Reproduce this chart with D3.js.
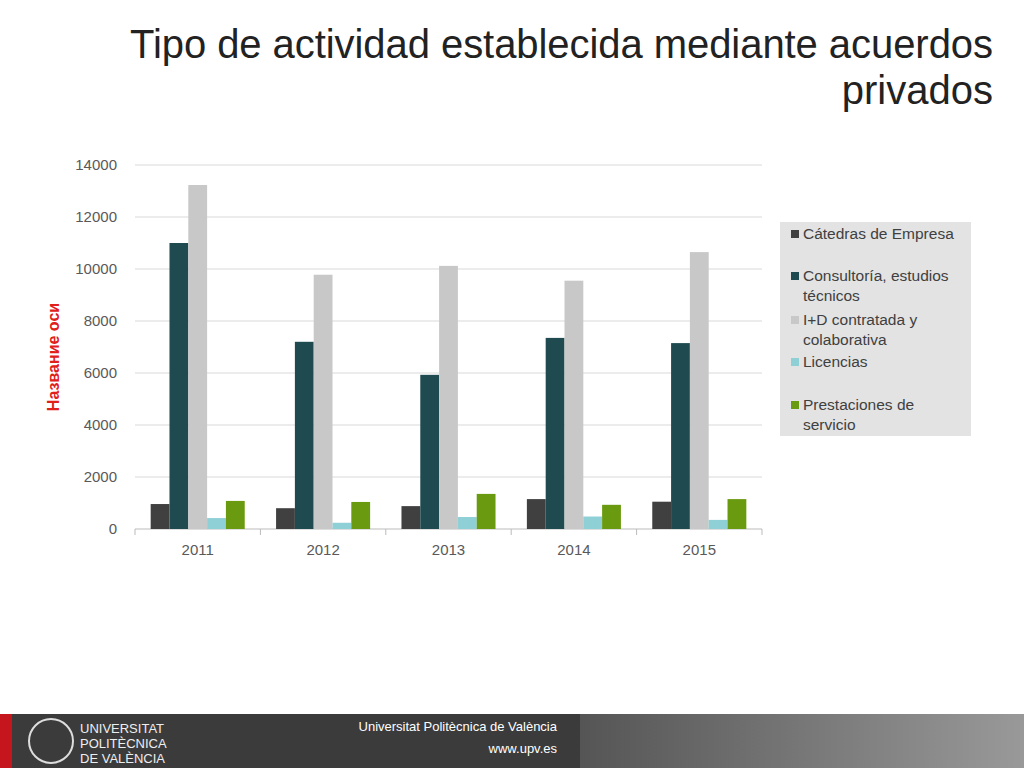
<!DOCTYPE html>
<html><head><meta charset="utf-8">
<script src="https://cdn.jsdelivr.net/npm/d3@7"></script>
<style>body{margin:0;background:#fff;font-family:"Liberation Sans",Arial,sans-serif}</style>
</head><body><svg id="c" width="1024" height="768"></svg>
<script>
const years=["2011","2012","2013","2014","2015"];
const seriesNames=["Cátedras de Empresa","Consultoría, estudios técnicos","I+D contratada y colaborativa","Licencias","Prestaciones de servicio"];
const catedras=[960,800,880,1150,1050];
const consultoria=[11000,7200,5930,7350,7150];
const imasd=[13230,9780,10120,9550,10650];
const licencias=[420,240,460,480,350];
const prestaciones=[1080,1040,1350,930,1150];
const yTicks=[0,2000,4000,6000,8000,10000,12000,14000];
const colors=["#404040","#1f4a4f","#c8c8c8","#8fcfd6","#6a9a10"];
const values=[catedras,consultoria,imasd,licencias,prestaciones];

const svg=d3.select("#c");
svg.append("text").attr("x",993).attr("y",58).attr("text-anchor","end").attr("font-size",40).attr("textLength",863).attr("fill","#222").text("Tipo de actividad establecida mediante acuerdos");
svg.append("text").attr("x",993).attr("y",104).attr("text-anchor","end").attr("font-size",40).attr("fill","#222").text("privados");

const x0=d3.scaleBand().domain(years).range([135,762]).paddingInner(0.25).paddingOuter(0.125);
const x1=d3.scaleBand().domain(d3.range(5)).range([0,x0.bandwidth()]);
const y=d3.scaleLinear().domain([0,14000]).range([529,165]);
const g=svg.append("g");
yTicks.forEach(t=>{
  g.append("line").attr("x1",135).attr("x2",762).attr("y1",y(t)).attr("y2",y(t)).attr("stroke",t===0?"#bbb":"#d9d9d9");
  g.append("text").attr("x",117).attr("y",y(t)+5).attr("text-anchor","end").attr("font-size",15).attr("fill","#595959").text(t);
});
years.forEach((yr,i)=>{
  values.forEach((s,j)=>{
    g.append("rect").attr("x",x0(yr)+x1(j)).attr("width",x1.bandwidth()).attr("y",y(s[i])).attr("height",y(0)-y(s[i])).attr("fill",colors[j]);
  });
  g.append("text").attr("x",x0(yr)+x0.bandwidth()/2).attr("y",555).attr("text-anchor","middle").attr("font-size",15).attr("fill","#595959").text(yr);
});
d3.range(6).forEach(k=>{const xx=135+k*125.4;g.append("line").attr("x1",xx).attr("x2",xx).attr("y1",529).attr("y2",535).attr("stroke","#bbb");});
svg.append("text").attr("transform","translate(59,357) rotate(-90)").attr("text-anchor","middle").attr("font-size",16).attr("font-weight","bold").attr("fill","#e0201b").text("Название оси");

svg.append("rect").attr("x",780).attr("y",222).attr("width",191).attr("height",214).attr("fill","#e3e3e3");
const leg=[["Cátedras de Empresa"],["Consultoría, estudios","técnicos"],["I+D contratada y","colaborativa"],["Licencias"],["Prestaciones de","servicio"]];
const ly=[234,276,320,362,405];
leg.forEach((l,i)=>{
  svg.append("rect").attr("x",791).attr("y",ly[i]-4).attr("width",8).attr("height",8).attr("fill",colors[i]);
  l.forEach((t,k)=>svg.append("text").attr("x",803).attr("y",ly[i]+5+k*20).attr("font-size",15.5).attr("fill","#404040").text(t));
});

const defs=svg.append("defs");
const gr=defs.append("linearGradient").attr("id","st");
gr.append("stop").attr("offset","0").attr("stop-color","#555");
gr.append("stop").attr("offset","1").attr("stop-color","#999");
svg.append("rect").attr("x",0).attr("y",714).attr("width",1024).attr("height",54).attr("fill","#3b3b3b");
svg.append("rect").attr("x",0).attr("y",714).attr("width",12).attr("height",54).attr("fill","#c4161c");
svg.append("rect").attr("x",580).attr("y",714).attr("width",444).attr("height",54).attr("fill","url(#st)");
svg.append("circle").attr("cx",51).attr("cy",741).attr("r",22).attr("fill","none").attr("stroke","#ddd").attr("stroke-width",2);
["UNIVERSITAT","POLITÈCNICA","DE VALÈNCIA"].forEach((t,i)=>svg.append("text").attr("x",80).attr("y",733+i*15).attr("font-size",13).attr("fill","#eee").text(t));
svg.append("text").attr("x",557).attr("y",731).attr("text-anchor","end").attr("font-size",13).attr("fill","#fff").text("Universitat Politècnica de València");
svg.append("text").attr("x",557).attr("y",753).attr("text-anchor","end").attr("font-size",13).attr("fill","#fff").text("www.upv.es");
</script></body></html>
